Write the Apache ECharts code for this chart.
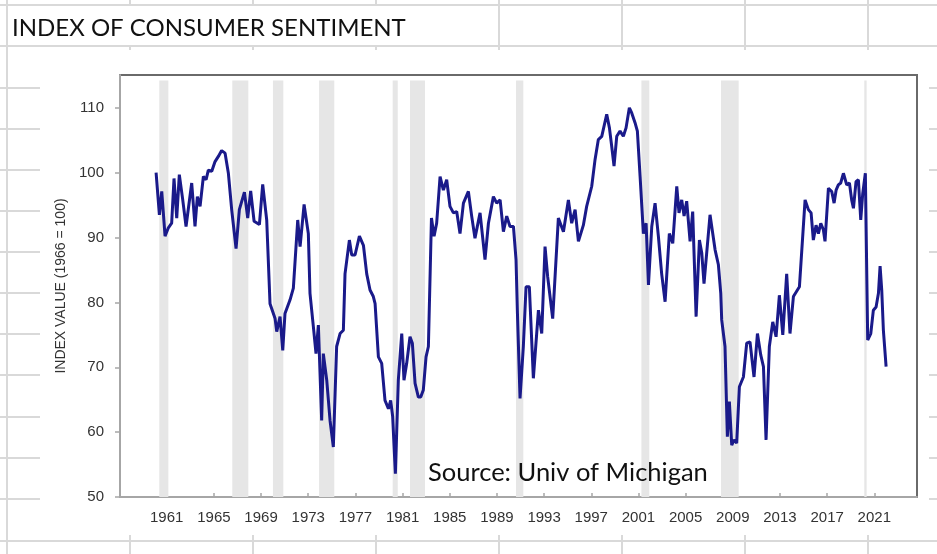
<!DOCTYPE html>
<html><head><meta charset="utf-8">
<script src="https://cdn.jsdelivr.net/npm/echarts@6/dist/echarts.min.js"></script>
<style>
html,body{margin:0;padding:0;width:937px;height:554px;overflow:hidden;background:#fff;}
#bg{position:absolute;left:0;top:0;width:937px;height:554px;}
.vl{position:absolute;width:2px;background:#d9d9d9;}
.hl{position:absolute;height:2px;background:#d9d9d9;left:0;width:937px;}
#obj{position:absolute;left:40px;top:50px;width:889px;height:485px;background:#fff;}
#chart{position:absolute;left:0;top:0;width:937px;height:554px;}
</style></head><body>
<div id="bg"></div><div id="obj"></div><div id="chart"></div>
<script>
// ---- data ----
const years = [
1960.10,1960.38,1960.58,1960.86,1961.14,1961.42,1961.62,1961.85,1962.07,1962.36,1962.64,
1963.12,1963.40,1963.60,1963.83,1964.11,1964.34,1964.53,1964.82,1965.10,1965.38,1965.66,1965.95,
1966.23,1966.51,1966.88,1967.16,1967.59,1967.87,1968.12,1968.41,1968.86,1969.14,1969.48,1969.76,
1970.19,1970.33,1970.61,1970.84,1971.03,1971.46,1971.74,1972.11,1972.31,1972.65,1973.01,1973.15,
1973.44,1973.66,1973.86,1974.14,1974.28,1974.57,1974.85,1975.13,1975.41,1975.70,1975.98,1976.12,
1976.49,1976.69,1976.97,1977.34,1977.68,1977.96,1978.24,1978.52,1978.67,1978.95,1979.23,1979.51,
1979.80,1979.99,1980.16,1980.39,1980.64,1980.93,1981.12,1981.35,1981.63,1981.83,1982.06,1982.34,
1982.54,1982.76,1982.99,1983.19,1983.45,1983.67,1983.89,1984.18,1984.46,1984.74,1985.02,1985.31,
1985.59,1985.87,1986.16,1986.58,1986.86,1987.14,1987.57,1987.99,1988.28,1988.70,1988.98,1989.27,
1989.55,1989.83,1990.11,1990.40,1990.62,1990.74,1990.96,1991.24,1991.47,1991.75,1992.09,1992.52,
1992.80,1993.08,1993.30,1993.73,1994.21,1994.64,1995.06,1995.34,1995.63,1995.91,1996.33,1996.61,
1997.04,1997.32,1997.60,1997.89,1998.31,1998.54,1998.73,1998.93,1999.16,1999.44,1999.72,1999.95,
2000.23,2000.43,2000.71,2000.91,2001.14,2001.42,2001.65,2001.85,2002.13,2002.41,2002.69,2002.97,
2003.26,2003.62,2003.91,2004.25,2004.44,2004.67,2004.87,2005.09,2005.38,2005.60,2005.89,2006.17,
2006.37,2006.56,2007.07,2007.50,2007.78,2007.98,2008.06,2008.34,2008.54,2008.71,2008.91,2009.11,
2009.33,2009.56,2009.90,2010.18,2010.46,2010.80,2011.09,2011.37,2011.60,2011.82,2012.10,2012.39,
2012.67,2012.95,2013.24,2013.57,2013.85,2014.14,2014.65,2015.13,2015.41,2015.64,2015.83,2016.06,
2016.26,2016.46,2016.68,2016.82,2017.11,2017.39,2017.59,2017.76,2017.95,2018.15,2018.38,2018.66,
2018.89,2019.08,2019.23,2019.45,2019.65,2019.85,2020.02,2020.24,2020.44,2020.70,2020.92,2021.15,
2021.35,2021.49,2021.63,2021.77,2022.00];
const sentiment = [
100.0,93.5,97.1,90.2,91.5,92.2,99.1,93.0,99.7,95.8,91.7,
98.4,91.7,96.3,94.8,99.4,98.9,100.4,100.2,101.7,102.5,103.4,103.0,
99.9,94.3,88.3,94.3,97.0,93.0,97.2,92.5,92.0,98.2,92.7,79.8,
77.5,75.5,77.8,72.6,78.3,80.4,82.2,92.7,88.6,95.1,90.6,81.4,
76.2,72.1,76.5,61.8,72.1,68.0,61.8,57.7,73.2,75.2,75.7,84.4,
89.6,87.3,87.3,90.2,88.8,84.4,81.9,80.9,79.8,71.6,70.6,64.9,
63.6,64.9,62.4,53.6,68.0,75.2,68.0,70.6,74.7,73.7,67.5,65.4,
65.4,66.5,71.6,73.2,93.0,90.2,92.2,99.4,97.3,98.9,94.8,93.8,
94.0,90.6,95.3,97.1,93.3,89.9,93.8,86.6,92.2,96.3,95.3,95.8,
90.9,93.3,91.7,91.7,86.6,78.3,65.2,73.2,82.4,82.4,68.3,78.8,
75.2,88.6,84.0,77.5,93.0,90.9,95.8,92.2,94.3,89.4,91.9,94.8,
97.9,102.0,105.1,105.6,109.0,106.9,104.1,101.0,105.6,106.4,105.6,106.9,
110.0,109.2,107.7,106.4,99.4,90.6,92.2,82.7,91.7,95.3,90.2,84.4,
80.1,90.6,89.1,97.9,93.8,95.8,93.3,95.6,89.4,94.0,77.8,89.6,
87.6,82.9,93.5,88.1,85.8,81.4,77.3,73.2,59.3,64.7,58.0,58.8,
58.3,67.0,68.5,73.7,73.9,68.5,75.2,71.9,70.1,58.8,73.2,77.0,
74.7,81.1,75.0,84.4,75.2,80.9,82.4,95.8,94.3,93.8,89.6,91.9,
90.6,92.2,91.2,89.4,97.6,97.1,95.3,97.3,98.1,98.4,99.9,98.1,
98.4,95.8,94.5,98.6,98.9,92.7,96.8,99.9,74.2,75.2,78.8,79.3,
81.4,85.6,81.9,75.7,70.1];
const recessionStart = [1960.37,1966.56,1970.01,1973.92,1980.16,1981.63,1990.62,2001.25,2008.00,2020.15];
const recessionEnd   = [1961.14,1967.92,1970.89,1975.21,1980.59,1982.90,1991.24,2001.92,2009.50,2020.35];
const xTicks = [1961,1965,1969,1973,1977,1981,1985,1989,1993,1997,2001,2005,2009,2013,2017,2021];
const yTicks = [50,60,70,80,90,100,110];

// ---- spreadsheet background ----
const bg = document.getElementById('bg');
const rowsY = [5,46,87.5,128.5,169.5,210.5,252,293,334,375,416.5,457.5,499,540.5];
rowsY.forEach(y=>{const d=document.createElement('div');d.className='hl';d.style.top=(y-1)+'px';bg.appendChild(d);});
const colsX = [7,130,253,376,499,622,745,868];
colsX.forEach(x=>{
  const hideTitleRow = (x>100 && x<410);
  const segs = hideTitleRow ? [[0,5],[46,554]] : [[0,554]];
  segs.forEach(s=>{const d=document.createElement('div');d.className='vl';d.style.left=(x-1)+'px';d.style.top=s[0]+'px';d.style.height=(s[1]-s[0])+'px';bg.appendChild(d);});
});

const data = years.map((y,i)=>[y, sentiment[i]]);
const areas = recessionStart.map((s,i)=>[{xAxis:s, yAxis:50},{xAxis:recessionEnd[i], yAxis:114.2}]);

const chart = echarts.init(document.getElementById('chart'), null, {renderer:'canvas'});
chart.setOption({
  backgroundColor:'transparent',
  animation:false,
  title:[
    {text:'INDEX OF CONSUMER SENTIMENT', left:7, top:11,
     textStyle:{fontFamily:'Lato', fontSize:24, fontWeight:'normal', color:'#111'}},
    {text:'Source: Univ of Michigan', left:423, top:455,
     textStyle:{fontFamily:'Lato', fontSize:25.5, fontWeight:'normal', color:'#111'}}
  ],
  grid:{left:120, top:75, right:20, bottom:57, show:true, borderColor:'#6a6a6a', borderWidth:2, backgroundColor:'transparent'},
  xAxis:{
    type:'value', min:1957.04, max:2024.62,
    splitLine:{show:false},
    axisLine:{show:true, lineStyle:{color:'#a6a6a6', width:2}},
    axisTick:{show:true, inside:true, length:4, lineStyle:{color:'#a6a6a6', width:1.5}, customValues:xTicks},
    axisLabel:{color:'#333', fontFamily:'Liberation Sans', fontSize:15, margin:13, customValues:xTicks, formatter:v=>String(v)}
  },
  yAxis:{
    type:'value', min:50, max:115.05,
    name:'INDEX VALUE (1966 = 100)', nameLocation:'middle', nameGap:52, nameRotate:90,
    nameTextStyle:{color:'#333', fontFamily:'Liberation Sans', fontSize:14},
    splitLine:{show:false},
    axisLine:{show:true, lineStyle:{color:'#a6a6a6', width:2}},
    axisTick:{show:true, inside:false, length:5, lineStyle:{color:'#a6a6a6', width:1.5}, customValues:yTicks},
    axisLabel:{color:'#333', fontFamily:'Liberation Sans', fontSize:15, margin:16, customValues:yTicks}
  },
  series:[{
    type:'line', data:data, symbol:'none', smooth:false,
    lineStyle:{color:'#1a1a8a', width:3},
    z:3,
    markArea:{silent:true, itemStyle:{color:'#e6e6e6'}, data:areas, z:1}
  }]
});
</script></body></html>
